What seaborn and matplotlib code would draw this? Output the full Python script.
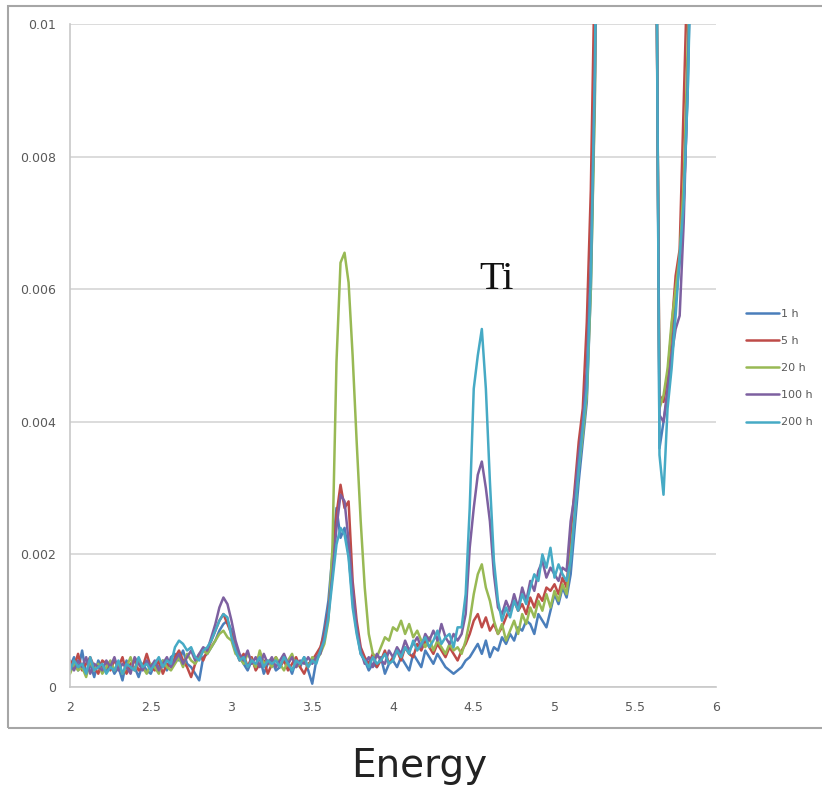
import matplotlib
matplotlib.use("Agg")
import matplotlib.pyplot as plt
import numpy as np
import pandas as pd
import seaborn as sns
from matplotlib.patches import Rectangle

# energy grid (keV), 2.0 .. 5.85 in 0.025 steps -> 155 points
energy = np.round(np.arange(2.0, 5.851, 0.025), 3)

series_labels = ["1 h", "5 h", "20 h", "100 h", "200 h"]
series_colors = ["#4a7ebb", "#be4b48", "#98b954", "#7d60a0", "#46aac5"]

# intensities, in units of 1e-5 (1500 = off the top)
h1 = [30, 45, 25, 55, 20, 35, 15, 40, 30, 25,
      35, 20, 30, 10, 40, 25, 30, 15, 35, 25,
      20, 35, 30, 40, 25, 45, 50, 40, 55, 35,
      30, 20, 10, 45, 50, 60, 70, 85, 95, 100,
      85, 60, 45, 35, 25, 40, 30, 45, 20, 35,
      40, 25, 30, 45, 35, 20, 40, 30, 45, 25,
      5, 40, 55, 90, 130, 200, 270, 225, 240, 200,
      130, 85, 50, 40, 25, 35, 30, 45, 20, 35,
      40, 30, 45, 35, 25, 50, 40, 30, 55, 45,
      35, 50, 40, 30, 25, 20, 25, 30, 40, 45,
      55, 65, 50, 70, 45, 60, 55, 75, 65, 80,
      70, 90, 85, 100, 95, 80, 110, 100, 90, 115,
      140, 125, 150, 135, 170, 240, 310, 370, 430, 600,
      900, 1500, 1500, 1500, 1500, 1500, 1500, 1500, 1500, 1500,
      1500, 1500, 1500, 1500, 1500, 1400, 360, 400, 440, 500,
      580, 640, 730, 900, 1200]

h5 = [40, 30, 50, 25, 35, 45, 30, 20, 40, 35,
      25, 40, 30, 45, 20, 35, 40, 25, 30, 50,
      30, 25, 40, 20, 35, 30, 45, 55, 40, 30,
      15, 35, 50, 40, 55, 70, 85, 100, 110, 95,
      80, 55, 40, 50, 30, 45, 25, 35, 40, 20,
      35, 45, 30, 40, 25, 35, 45, 30, 20, 35,
      40, 50, 60, 80, 115, 180, 260, 305, 270, 280,
      160, 100, 60, 45, 35, 50, 30, 40, 55, 35,
      45, 55, 40, 60, 50, 45, 65, 55, 70, 60,
      50, 65, 55, 45, 60, 50, 40, 55, 65, 80,
      100, 110, 90, 105, 85, 95, 80, 90, 105, 120,
      130, 115, 125, 110, 135, 120, 140, 130, 150, 145,
      155, 140, 165, 150, 230, 300, 370, 420, 550, 750,
      1100, 1500, 1500, 1500, 1500, 1500, 1500, 1500, 1500, 1500,
      1500, 1500, 1500, 1500, 1500, 1300, 440, 430, 470, 540,
      620, 660, 880, 1100, 1400]

h20 = [20, 35, 25, 30, 15, 40, 25, 35, 20, 30,
       40, 25, 35, 20, 30, 45, 25, 40, 30, 20,
       35, 30, 20, 40, 30, 25, 35, 45, 30, 50,
       40, 35, 45, 55, 50, 60, 70, 80, 85, 75,
       70, 50, 45, 35, 50, 40, 30, 55, 35, 40,
       30, 45, 35, 25, 40, 50, 30, 35, 40, 30,
       45, 40, 50, 65, 100, 210, 490, 640, 655, 610,
       500, 370, 250, 150, 80, 50, 45, 60, 75, 70,
       90, 85, 100, 80, 95, 75, 85, 70, 60, 75,
       55, 70, 60, 50, 65, 55, 60, 50, 70, 100,
       140, 170, 185, 150, 130, 100, 80, 95, 70, 85,
       100, 80, 110, 95, 120, 105, 130, 115, 140, 120,
       145, 130, 155, 140, 200, 260, 330, 380, 440, 600,
       880, 1500, 1500, 1500, 1500, 1500, 1500, 1500, 1500, 1500,
       1500, 1500, 1500, 1500, 1500, 1350, 420, 440, 480, 550,
       600, 650, 760, 970, 1250]

h100 = [35, 25, 40, 30, 45, 20, 35, 30, 25, 40,
        30, 45, 25, 35, 30, 20, 45, 35, 25, 40,
        30, 40, 25, 35, 45, 30, 40, 50, 35, 45,
        55, 40, 50, 60, 55, 75, 95, 120, 135, 125,
        100, 70, 50, 40, 55, 35, 45, 30, 50, 35,
        45, 30, 40, 50, 35, 45, 30, 40, 35, 45,
        35, 45, 50, 75, 110, 170, 240, 290, 280, 220,
        150, 90, 55, 35, 45, 30, 50, 40, 35, 55,
        45, 60, 50, 70, 55, 65, 75, 60, 80, 70,
        85, 70, 95, 75, 65, 80, 70, 80, 110, 210,
        270, 320, 340, 300, 250, 170, 120, 110, 130, 115,
        140, 120, 150, 130, 160, 145, 175, 190, 165, 180,
        170, 160, 180, 175, 250, 290, 350, 400, 480, 640,
        920, 1500, 1500, 1500, 1500, 1500, 1500, 1500, 1500, 1500,
        1500, 1500, 1500, 1500, 1500, 1350, 410, 400, 450, 500,
        540, 560, 700, 920, 1200]

h200 = [25, 40, 30, 35, 20, 45, 25, 30, 35, 20,
        30, 25, 40, 20, 35, 30, 25, 45, 30, 35,
        25, 35, 45, 30, 40, 35, 60, 70, 65, 55,
        60, 45, 40, 55, 60, 70, 85, 100, 110, 105,
        75, 55, 40, 45, 30, 40, 35, 45, 30, 40,
        35, 40, 30, 45, 35, 25, 40, 35, 45, 30,
        40, 35, 55, 70, 105, 160, 215, 240, 230, 195,
        120, 80, 50, 40, 30, 45, 35, 40, 50, 35,
        40, 55, 45, 60, 50, 70, 55, 65, 75, 60,
        70, 85, 65, 75, 80, 60, 90, 90, 140, 270,
        450, 500, 540, 450, 310, 190, 130, 100, 120, 105,
        130, 115, 140, 125, 150, 170, 160, 200, 180, 210,
        165, 185, 170, 160, 190, 260, 330, 390, 450, 620,
        930, 1500, 1500, 1500, 1500, 1500, 1500, 1500, 1500, 1500,
        1500, 1500, 1500, 1500, 1500, 1400, 350, 290, 420, 480,
        560, 650, 730, 900, 1150]

x_ticks = [2, 2.5, 3, 3.5, 4, 4.5, 5, 5.5, 6]
x_tick_labels = ["2", "2.5", "3", "3.5", "4", "4.5", "5", "5.5", "6"]
y_ticks = [0, 0.002, 0.004, 0.006, 0.008, 0.01]
y_tick_labels = ["0", "0.002", "0.004", "0.006", "0.008", "0.01"]

frames = []
for lab, vals in zip(series_labels, [h1, h5, h20, h100, h200]):
    frames.append(pd.DataFrame({"energy": energy,
                                "intensity": np.array(vals) * 1e-5,
                                "series": lab}))
df = pd.concat(frames, ignore_index=True)

sns.set_style("white")
plt.rcParams["font.family"] = ["DejaVu Sans"]

fig = plt.figure(figsize=(8.22, 7.95), dpi=100)
ax = fig.add_axes([70 / 822, 1 - 687 / 795, 646 / 822, 663 / 795])

sns.lineplot(data=df, x="energy", y="intensity", hue="series",
             hue_order=series_labels, palette=series_colors,
             estimator=None, linewidth=1.8, ax=ax)

ax.set_xlim(2, 6)
ax.set_ylim(0, 0.01)
ax.set_xticks(x_ticks)
ax.set_xticklabels(x_tick_labels)
ax.set_yticks(y_ticks)
ax.set_yticklabels(y_tick_labels)
ax.set_xlabel("")
ax.set_ylabel("")
ax.yaxis.grid(True, color="#d9d9d9", linewidth=1.3)
ax.xaxis.grid(False)
ax.set_axisbelow(True)
for s in ["top", "right"]:
    ax.spines[s].set_visible(False)
for s in ["left", "bottom"]:
    ax.spines[s].set_color("#c8c8c8")
    ax.spines[s].set_linewidth(1.2)
ax.tick_params(axis="both", direction="out", length=4, width=1,
               color="#c8c8c8", labelcolor="#595959", labelsize=9, pad=6)

handles, labels = ax.get_legend_handles_labels()
ax.get_legend().remove()
fig.legend(handles, labels, loc="center left",
           bbox_to_anchor=(740 / 822, 1 - 368 / 795), frameon=False,
           fontsize=8, handlelength=3.0, handletextpad=0.15,
           labelspacing=1.55, borderpad=0, labelcolor="#595959")

ax.text(4.64, 0.006, "Ti", ha="center", va="baseline",
        fontsize=29, family="Liberation Serif", color="#111111")

fig.text(0.51, 1 - 777 / 795, "Energy", ha="center", va="baseline",
         fontsize=28, color="#222222")

# grey frame around the chart area (runs off the right edge)
fig.patches.append(Rectangle((8 / 822, 1 - 728 / 795), 1.2, 722 / 795,
                             transform=fig.transFigure, fill=False,
                             edgecolor="#a6a6a6", linewidth=1.5))

fig.savefig("out.png", dpi=100, facecolor="white")
